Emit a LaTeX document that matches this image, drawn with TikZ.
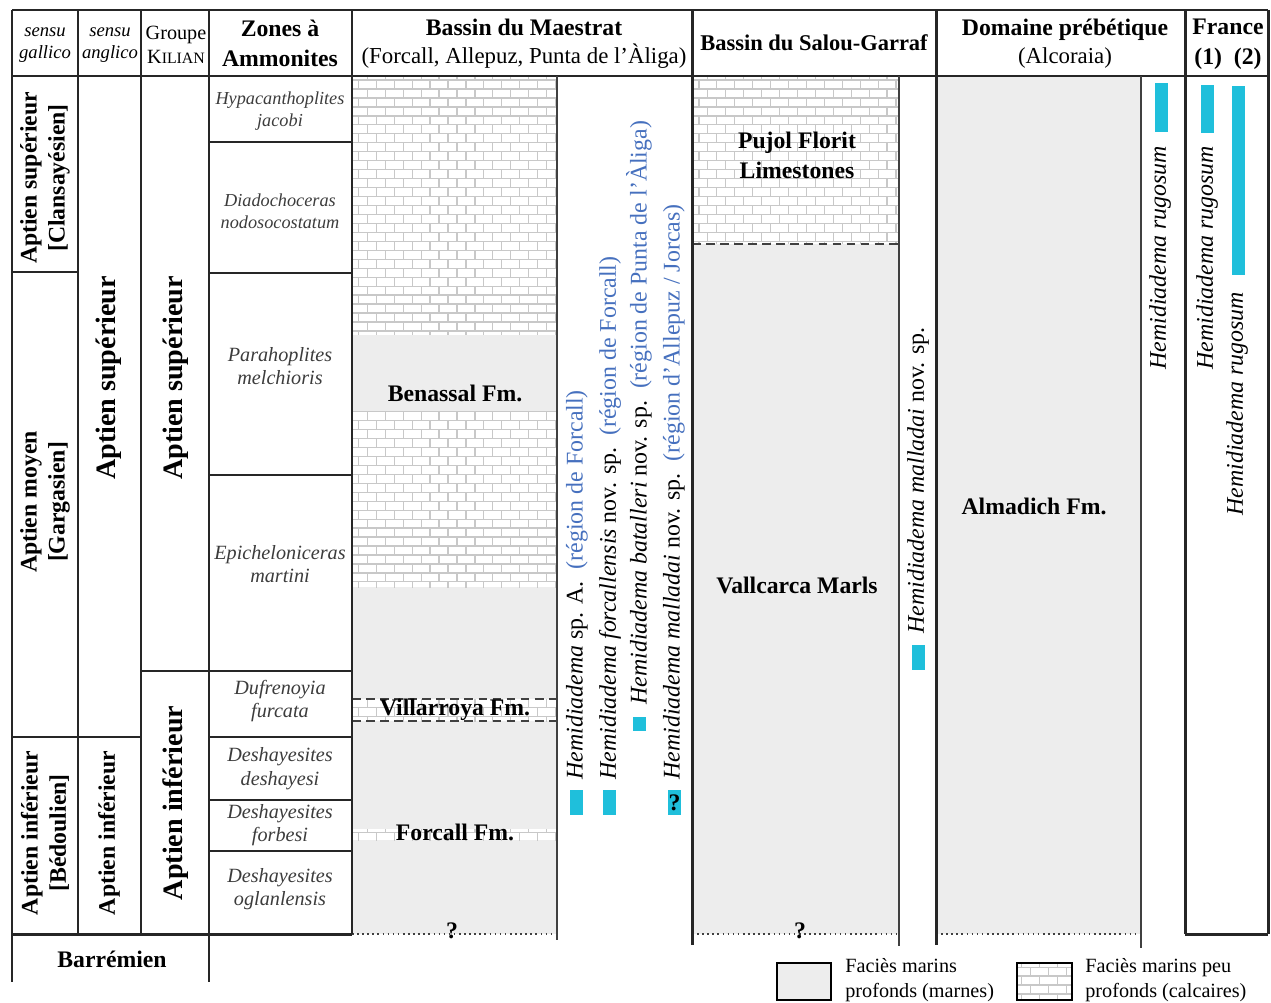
\documentclass[tikz,border=0pt]{standalone}
\usepackage{fontspec}
\setmainfont{Liberation Serif}
\usetikzlibrary{patterns}
\tikzset{>=latex}
\definecolor{marlgray}{RGB}{237,237,237}
\definecolor{brickgray}{RGB}{200,200,200}
\definecolor{regblue}{RGB}{70,112,190}
\definecolor{barcyan}{RGB}{31,191,219}
\definecolor{zonegray}{RGB}{60,60,60}
% limestone bricks, 18px x 9px
\pgfdeclarepatternformonly{limebricks}{\pgfqpoint{-0.5pt}{-0.5pt}}{\pgfqpoint{10.7pt}{10.7pt}}{\pgfqpoint{10.2pt}{10.2pt}}{%
  \pgfsetlinewidth{0.7pt}
  \pgfpathmoveto{\pgfqpoint{0pt}{0pt}}\pgfpathlineto{\pgfqpoint{10.2pt}{0pt}}
  \pgfpathmoveto{\pgfqpoint{0pt}{5.1pt}}\pgfpathlineto{\pgfqpoint{10.2pt}{5.1pt}}
  \pgfpathmoveto{\pgfqpoint{0pt}{0pt}}\pgfpathlineto{\pgfqpoint{0pt}{5.1pt}}
  \pgfpathmoveto{\pgfqpoint{5.1pt}{5.1pt}}\pgfpathlineto{\pgfqpoint{5.1pt}{10.2pt}}
  \pgfusepath{stroke}}

\begin{document}
\begin{tikzpicture}[x=0.02cm, y=-0.02cm,
    rule/.style={line width=1.7pt, black!85},
    fine/.style={line width=0.8pt, black!75},
    brick/.style={preaction={fill=white}, pattern=limebricks, pattern color=brickgray},
    hb/.style={font=\fontsize{13.5}{16}\selectfont\bfseries, align=center, inner sep=0pt},
    hn/.style={font=\fontsize{13}{16}\selectfont, align=center, inner sep=0pt},
    sm/.style={font=\fontsize{10.6}{12.5}\selectfont\itshape, align=center, inner sep=0pt},
    zone/.style={font=\fontsize{11.5}{13.5}\selectfont\itshape, text=zonegray, align=center, inner sep=0pt},
    age/.style={font=\fontsize{13.5}{16}\selectfont\bfseries, align=center, rotate=90, inner sep=0pt},
    bigage/.style={font=\fontsize{16}{19}\selectfont\bfseries, rotate=90, inner sep=0pt},
    spec/.style={font=\fontsize{13.6}{16}\selectfont, rotate=90, anchor=west, inner sep=0pt},
    bar/.style={fill=barcyan},
    leg/.style={font=\fontsize{11.5}{14}\selectfont, align=left, anchor=north west, inner sep=0pt}]
  \useasboundingbox (0,0) rectangle (1271,1003);

  % lithology
  \fill[marlgray] (352,76) rectangle (557,934);
  \foreach \ya/\yb in {76/335, 412/587, 699/721, 829/840}
    \fill[brick] (352,\ya) rectangle (557,\yb);
  \fill[marlgray] (692,76) rectangle (899,934);
  \fill[brick] (692,76) rectangle (899,244);
  \fill[marlgray] (936,76) rectangle (1141,934);

  \draw[dashed, line width=1pt, black!75, dash pattern=on 5pt off 3pt] (352,699) -- (557,699) (352,721) -- (557,721);
  \draw[dashed, line width=1pt, black!75, dash pattern=on 5pt off 3pt] (692,244) -- (899,244);
  \draw[dotted, line width=0.9pt, black!75] (352,934) -- (557,934) (692,934) -- (899,934) (936,934) -- (1141,934);

  % grid
  \draw[rule] (12,10) -- (1268,10) (12,76) -- (1268,76);
  \foreach \x/\yb in {12/982, 78/934, 141/934, 209/982, 352/934, 692/945, 936/945, 1185/934, 1268/934}
    \draw[rule] (\x,10) -- (\x,\yb);
  \foreach \xa/\xb/\y in {12/352/934, 1185/1268/934, 12/78/272, 12/78/737, 78/141/737, 141/209/671,
      209/352/142, 209/352/273, 209/352/475, 209/352/671, 209/352/737, 209/352/800, 209/352/851}
    \draw[rule] (\xa,\y) -- (\xb,\y);
  \draw[fine] (557,76) -- (557,940) (899,76) -- (899,946) (1141,76) -- (1141,948);

  % header
  \node[sm] (gal) at (45,45) {sensu\\gallico};
  \node[sm] (ang) at (110,45) {sensu\\anglico};
  \node[hn, font=\fontsize{11.5}{13.5}\selectfont] (kil) at (176,45) {Groupe\\K{\fontsize{9}{10}\selectfont ILIAN}};
  \node[hb, font=\fontsize{13.5}{17}\selectfont\bfseries] (zon) at (280,43) {Zones à\\Ammonites};
  \node[hn] (mae) at (524,44) {{\bfseries\fontsize{13.5}{16}\selectfont Bassin du Maestrat}\\(Forcall, Allepuz, Punta de l'Àliga)};
  \node[hb, font=\fontsize{12.8}{16}\selectfont\bfseries] (sal) at (814,43) {Bassin du Salou-Garraf};
  \node[hn] (dom) at (1065,44) {{\bfseries\fontsize{13.5}{16}\selectfont Domaine prébétique}\\(Alcoraia)};
  \node[hb, font=\fontsize{13.5}{17}\selectfont\bfseries] (fra) at (1228,44) {France\\(1)~~(2)};

  % stages
  \node[age] (clan) at (45,178) {Aptien supérieur\\{[Clansayésien]}};
  \node[age] (garg) at (45,502) {Aptien moyen\\{[Gargasien]}};
  \node[age] (bedo) at (45,833) {Aptien inférieur\\{[Bédoulien]}};
  \node[bigage] (angsup) at (109,378) {Aptien supérieur};
  \node[age] (anginf) at (109,833) {Aptien inférieur};
  \node[bigage] (kilsup) at (176,378) {Aptien supérieur};
  \node[bigage] (kilinf) at (176,803) {Aptien inférieur};
  \node[hb] (barr) at (112,959) {Barrémien};

  % ammonite zones
  \node[zone, font=\fontsize{10.4}{12.5}\selectfont\itshape] (z1) at (280,111) {Hypacanthoplites\\jacobi};
  \node[zone, font=\fontsize{10.4}{12.5}\selectfont\itshape] (z2) at (280,211) {Diadochoceras\\nodosocostatum};
  \node[zone] (z3) at (280,366) {Parahoplites\\melchioris};
  \node[zone] (z4) at (280,564) {Epicheloniceras\\martini};
  \node[zone] (z5) at (280,701) {Dufrenoyia\\furcata};
  \node[zone] (z6) at (280,769) {Deshayesites\\deshayesi};
  \node[zone] (z7) at (280,825) {Deshayesites\\forbesi};
  \node[zone] (z8) at (280,889) {Deshayesites\\oglanlensis};

  % formations
  \node[hb] (bena) at (455,393) {Benassal Fm.};
  \node[hb] (vill) at (455,710) {Villarroya Fm.};
  \node[hb] (forc) at (455,832) {Forcall Fm.};
  \node[hb, font=\fontsize{13.5}{17}\selectfont\bfseries] (pujo) at (797,155) {Pujol Florit\\Limestones};
  \node[hb] (vall) at (797,585) {Vallcarca Marls};
  \node[hb] (alma) at (1034,506) {Almadich Fm.};
  \node[hb] (q1) at (452,931) {?};
  \node[hb] (q2) at (800,931) {?};

  % echinoid ranges
  \fill[bar] (570,790) rectangle (583,815);
  \fill[bar] (603,790) rectangle (616,815);
  \fill[bar] (633,717) rectangle (646,731);
  \fill[bar] (668,790) rectangle (681,815);
  \node[hb] (q3) at (674.5,802.5) {?};
  \fill[bar] (912,645) rectangle (925,670);
  \fill[bar] (1155,83) rectangle (1168,132);
  \fill[bar] (1201,85) rectangle (1214,133);
  \fill[bar] (1232,86) rectangle (1245,275);

  \node[spec] (sp1) at (577,780) {\textit{Hemidiadema} sp. A.\ \ \textcolor{regblue}{(région de Forcall)}};
  \node[spec] (sp2) at (610,780) {\textit{Hemidiadema forcallensis} nov. sp.\ \ \textcolor{regblue}{(région de Forcall)}};
  \node[spec] (sp3) at (639,705) {\textit{Hemidiadema batalleri} nov. sp.\ \ \textcolor{regblue}{(région de Punta de l'Àliga)}};
  \node[spec] (sp4) at (674,780) {\textit{Hemidiadema malladai} nov. sp.\ \ \textcolor{regblue}{(région d'Allepuz / Jorcas)}};
  \node[spec] (sp5) at (918,634) {\textit{Hemidiadema malladai} nov. sp.};
  \node[spec] (sp6) at (1160,370) {\textit{Hemidiadema rugosum}};
  \node[spec] (sp7) at (1207,370) {\textit{Hemidiadema rugosum}};
  \node[spec] (sp8) at (1237,516) {\textit{Hemidiadema rugosum}};

  % legend
  \draw[line width=1.3pt, fill=marlgray] (777,963) rectangle (831,1000);
  \node[leg] (leg1) at (845,958) {Faciès marins\\profonds (marnes)};
  \draw[line width=1.3pt, brick] (1017,963) rectangle (1072,1000);
  \node[leg] (leg2) at (1085,958) {Faciès marins peu\\profonds (calcaires)};
\end{tikzpicture}
\end{document}
